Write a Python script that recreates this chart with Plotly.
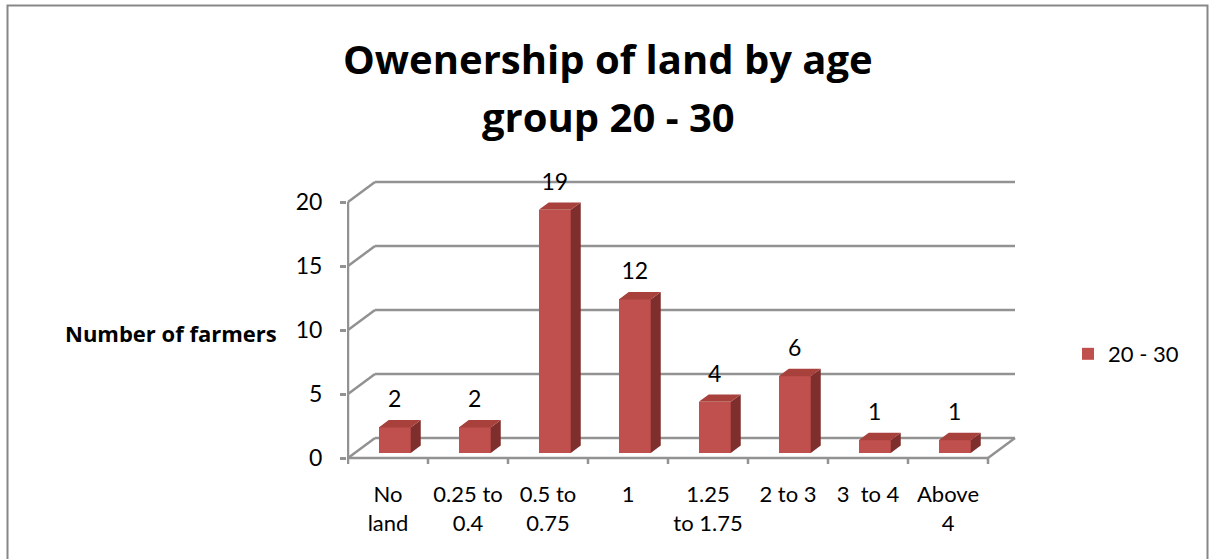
import plotly.graph_objects as go

# ---- data ----
categories = ["No<br>land", "0.25 to<br>0.4", "0.5 to<br>0.75", "1", "1.25<br>to 1.75",
              "2 to 3", "3  to 4", "Above<br>4"]
values = [2, 2, 19, 12, 4, 6, 1, 1]
series_name = "20 - 30"
y_ticks = [0, 5, 10, 15, 20]
title_lines = ["Owenership of land by age", "group 20 - 30"]
y_title = "Number of farmers"

# ---- pseudo-3D projection settings (styles) ----
DX, DY = 0.3375, 1.5625     # full depth offset in data units (x: categories, y: values)
FRONT, BACK = 0.25, 0.62     # depth fractions of bar front / back faces
BAR_W = 0.4
FRONT_COL, SIDE_COL, TOP_COL = "#C0504D", "#7E2E2C", "#A8403C"
GRID_COL = "#929292"
FONT = "Lato"
BOLD_FONT = "Open Sans"

n = len(values)
xs = list(range(n))

fig = go.Figure()

# front faces (real bar trace)
fig.add_trace(go.Bar(
    x=[i + FRONT * DX for i in xs], y=values, base=FRONT * DY, width=BAR_W,
    marker=dict(color=FRONT_COL, line=dict(width=0)), name=series_name,
    showlegend=True, hoverinfo="skip"))

# side and top faces
sx, sy, tx, ty = [], [], [], []
for i, v in zip(xs, values):
    xl = i + FRONT * DX - BAR_W / 2
    xr = i + FRONT * DX + BAR_W / 2
    b = FRONT * DY
    t = b + v
    ddx, ddy = (BACK - FRONT) * DX, (BACK - FRONT) * DY
    sx += [xr, xr + ddx, xr + ddx, xr, xr, None]
    sy += [b, b + ddy, t + ddy, t, b, None]
    tx += [xl, xr, xr + ddx, xl + ddx, xl, None]
    ty += [t, t, t + ddy, t + ddy, t, None]
fig.add_trace(go.Scatter(x=sx, y=sy, mode="lines", fill="toself", fillcolor=SIDE_COL,
                         line=dict(width=0, color=SIDE_COL), showlegend=False, hoverinfo="skip"))
fig.add_trace(go.Scatter(x=tx, y=ty, mode="lines", fill="toself", fillcolor=TOP_COL,
                         line=dict(width=0, color=TOP_COL), showlegend=False, hoverinfo="skip"))

# data labels
lab_x = [i + FRONT * DX for i in xs]
lab_y = [FRONT * DY + v + (BACK - FRONT) * DY + 1.45 for v in values]
fig.add_trace(go.Scatter(x=lab_x, y=lab_y, mode="text", text=[str(v) for v in values],
                         textposition="middle center",
                         textfont=dict(family=FONT, size=23, color="#000000"),
                         showlegend=False, hoverinfo="skip"))

# walls / gridlines as shapes behind bars
shapes = []
def seg(x0, y0, x1, y1):
    shapes.append(dict(type="line", xref="x", yref="y", x0=x0, y0=y0, x1=x1, y1=y1,
                       layer="below", line=dict(color=GRID_COL, width=2.5)))
left, right = -0.5, n - 0.5
for v in y_ticks:
    seg(left, v, left + DX, v + DY)
    seg(left + DX, v + DY, right + DX, v + DY)
seg(right, 0, right + DX, DY)          # floor right edge
seg(left, 0, right, 0)                 # floor front edge (x axis)
seg(left, 0, left, y_ticks[-1])        # front y axis line
for k in range(n + 1):                 # category boundary ticks
    seg(left + k, 0, left + k, -0.47)

# chart border
shapes.append(dict(type="rect", xref="paper", yref="paper",
                   x0=(7.5 - 347) / 673, x1=(1207.5 - 347) / 673,
                   y0=(470 - 580) / 300, y1=(470 - 5.5) / 300,
                   line=dict(color="#878787", width=2), fillcolor="rgba(0,0,0,0)", layer="below"))

annotations = [
    dict(text=title_lines[0], xref="paper", yref="paper", x=(608 - 347) / 673, y=(470 - 58) / 300,
         xanchor="center", yanchor="middle", showarrow=False,
         font=dict(family=BOLD_FONT, size=40, color="#000000", weight="bold")),
    dict(text=title_lines[1], xref="paper", yref="paper", x=(608 - 347) / 673, y=(470 - 117) / 300,
         xanchor="center", yanchor="middle", showarrow=False,
         font=dict(family=BOLD_FONT, size=40, color="#000000", weight="bold")),
    dict(text=y_title, xref="paper", yref="paper", x=(279 - 347) / 673, y=(470 - 333) / 300,
         xanchor="right", yanchor="middle", showarrow=False,
         font=dict(family=BOLD_FONT, size=22, color="#000000", weight="bold")),
]

fig.update_layout(
    width=1209, height=559,
    margin=dict(l=347, r=1209 - 1020, t=170, b=559 - 470, pad=0),
    paper_bgcolor="white", plot_bgcolor="rgba(0,0,0,0)",
    shapes=shapes, annotations=annotations,
    bargap=0,
    legend=dict(x=(1068 - 347) / 673, y=(470 - 354) / 300, xanchor="left", yanchor="middle",
                font=dict(family=FONT, size=22, color="#000000"), bgcolor="rgba(0,0,0,0)"),
    xaxis=dict(range=[-0.5125, 7.9], tickmode="array", tickvals=xs, ticktext=categories,
               showgrid=False, zeroline=False, showline=False, ticks="",
               ticklabelstandoff=9, tickfont=dict(family=FONT, size=22, color="#000000")),
    yaxis=dict(range=[-0.9375, 22.5], tickmode="array", tickvals=y_ticks,
               showgrid=False, zeroline=False, showline=False,
               ticks="outside", ticklen=6, tickwidth=2.5, tickcolor=GRID_COL,
               ticklabelstandoff=13, tickfont=dict(family=FONT, size=23, color="#000000")),
)

fig.write_html("out.html")
